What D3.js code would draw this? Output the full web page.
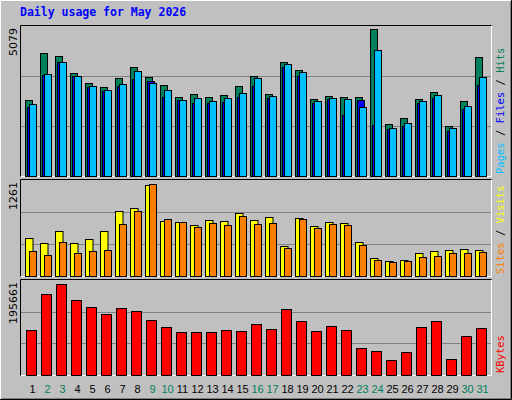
<!DOCTYPE html>
<html><head><meta charset="utf-8">
<script src="https://cdn.jsdelivr.net/npm/d3@7"></script>
<style>body{margin:0;background:#fff}svg{display:block}</style>
</head><body><svg id="c" width="512" height="400"></svg>
<script>
// Daily usage chart, Webalizer style
const days = d3.range(1, 32);
const weekend = [2, 3, 9, 10, 16, 17, 23, 24, 30, 31];
const hits = [2631,4251,4148,3562,3217,3079,3390,3769,3424,3148,2735,2838,2735,2804,3114,3458,2838,3941,3665,2666,2769,2735,2735,5079,1804,2011,2666,2918,1735,2597,4113];
const files = [2367,3493,3930,3458,3079,2941,3114,3355,3286,2735,2631,2528,2528,2562,2735,3114,2700,3769,3458,2528,2666,2114,2631,1769,1632,1735,2528,2700,1563,2321,3148];
const pages = [2493,3527,3941,3458,3114,2976,3183,3631,3217,2976,2631,2700,2597,2700,2873,3390,2769,3872,3596,2597,2700,2666,2390,4355,1666,1838,2597,2804,1666,2424,3424];
const sites = [499,433,591,433,486,591,854,893,1195,722,709,670,735,722,827,735,775,394,762,657,709,696,447,236,197,210,302,328,341,355,341];
const visits = [328,276,447,302,328,341,683,854,1208,749,709,644,696,670,788,683,696,368,749,630,683,670,407,210,184,197,250,263,302,302,315];
const kbytes = [92678,166820,187415,154463,140046,125630,137987,131808,113273,98856,88559,88559,88559,92678,90618,105035,94738,135927,111213,90618,100916,92678,55607,49428,30893,47369,98856,111213,32952,80321,96797];

const svg = d3.select('#c');
const X0 = 21, X1 = 491;
const x = d3.scaleBand().domain(days).range([X0, X0 + 465]);

// background + bevel
svg.append('rect').attr('width', 512).attr('height', 400).attr('fill', '#c0c0c0');
svg.append('path').attr('d', 'M0.5,399.5V0.5H511.5').attr('stroke', '#fff').attr('fill', 'none');
svg.append('path').attr('d', 'M1.5,398.5H510.5V1.5').attr('stroke', '#808080').attr('fill', 'none');
svg.append('path').attr('d', 'M511.5,0V399.5H0').attr('stroke', '#000').attr('fill', 'none');

svg.append('text').attr('x', 20).attr('y', 16)
  .attr('font-family', 'DejaVu Sans Mono').attr('font-weight', 'bold').attr('font-size', 11.5)
  .attr('fill', '#0000ff').text('Daily usage for May 2026');

function panel(y0, y1, max, label, series, legend) {
  const y = d3.scaleLinear().domain([0, max]).range([y1, y0]);
  svg.append('path').attr('d', `M${X0 - 0.5},${y1 + 0.5}V${y0 - 0.5}H${X1 + 0.5}`).attr('stroke', '#000').attr('fill', 'none');
  svg.append('path').attr('d', `M${X1 + 0.5},${y0}V${y1 + 0.5}H${X0}`).attr('stroke', '#fff').attr('fill', 'none');
  [1 / 3, 2 / 3].forEach((f) => {
    const gy = Math.round(y(max * f)) + 0.5;
    svg.append('line').attr('x1', X0).attr('x2', X1).attr('y1', gy).attr('y2', gy).attr('stroke', '#808080');
  });
  series.forEach((s) => {
    svg.append('g').selectAll('rect').data(s.data).join('rect')
      .attr('x', (d, i) => Math.round(x(days[i]) + s.off) + 0.5)
      .attr('width', s.w)
      .attr('y', (d) => Math.round(y(d)) + 0.5)
      .attr('height', (d) => y1 - Math.round(y(d)))
      .attr('fill', s.color).attr('stroke', '#000');
  });
  svg.append('text').attr('transform', `translate(17,${y0 + 2}) rotate(-90)`)
    .attr('text-anchor', 'end').attr('font-family', 'DejaVu Sans').attr('font-size', 11)
    .attr('fill', '#000').text(label);
  const t = svg.append('text').attr('transform', `translate(504,${y1 - 2}) rotate(-90)`)
    .attr('font-family', 'DejaVu Sans Mono').attr('font-size', 10.5);
  legend.forEach((l, i) => {
    if (i) t.append('tspan').attr('fill', '#000').text(' / ');
    t.append('tspan').attr('fill', l[1]).text(l[0]);
  });
}

panel(26, 176, 5079 * 1.02, '5079', [
  { data: hits, color: '#00805c', off: 4, w: 7 },
  { data: files, color: '#0000ff', off: 6, w: 7 },
  { data: pages, color: '#00c0ff', off: 8, w: 7 }
], [['Pages', '#00c0ff'], ['Files', '#0000ff'], ['Hits', '#00805c']]);

panel(180, 276, 1261, '1261', [
  { data: sites, color: '#ffff00', off: 4, w: 7.5 },
  { data: visits, color: '#ff8000', off: 8, w: 7 }
], [['Sites', '#ff8000'], ['Visits', '#ffff00']]);

panel(280, 375, 195661, '195661', [
  { data: kbytes, color: '#ff0000', off: 5, w: 10 }
], [['KBytes', '#ff0000']]);

svg.append('g').selectAll('text').data(days).join('text')
  .attr('x', (d) => x(d) + 11.5).attr('y', 393).attr('text-anchor', 'middle')
  .attr('font-family', 'Liberation Sans').attr('font-size', 11)
  .attr('fill', (d) => weekend.includes(d) ? '#00805c' : '#000').text((d) => d);
</script></body></html>
